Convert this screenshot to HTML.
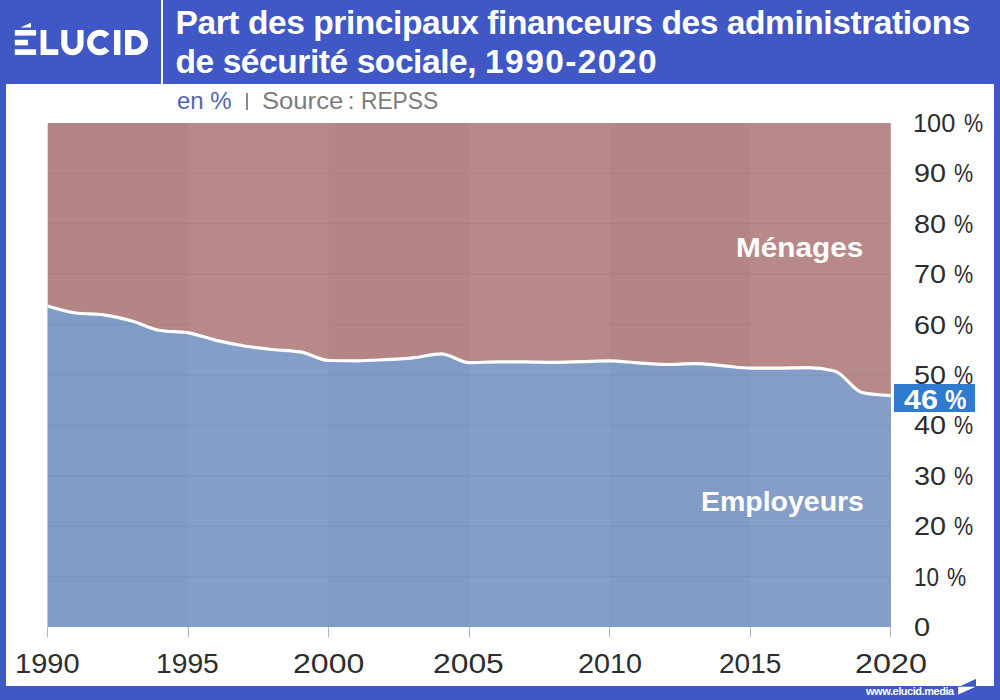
<!DOCTYPE html>
<html><head><meta charset="utf-8"><style>
*{margin:0;padding:0;box-sizing:border-box}
html,body{width:1000px;height:700px;overflow:hidden;background:#4058c5;font-family:"Liberation Sans",sans-serif}
#white{position:absolute;left:6px;top:84px;width:988px;height:602px;background:#fff}
#sep{position:absolute;left:161px;top:0;width:2px;height:84px;background:#fff}
#title{position:absolute;left:175.5px;top:3px;color:#fff;font-weight:bold;font-size:33.5px;line-height:39.2px;letter-spacing:-0.42px;white-space:nowrap}
#sub{position:absolute;left:0;top:88px;width:600px;height:26px;font-size:24px;line-height:26px;color:#7b7b7b;white-space:nowrap}
#sub span{position:absolute;top:0;transform-origin:0 0}
#sub .b{color:#5263b3}
#sub .bar{left:246.2px;top:4.6px;width:1.6px;height:17px;background:#8a8a8a}
svg{position:absolute;left:0;top:0}
.yl{position:absolute;left:0;width:1000px;height:30px;font-size:25px;line-height:30px;color:#2d2d2d;white-space:nowrap}
.yl .n{position:absolute;top:0;transform-origin:0 0}
.xl{position:absolute;top:647px;font-size:28.5px;line-height:32px;color:#2d2d2d;white-space:nowrap;transform-origin:0 0}
.lab{position:absolute;color:#fff;font-weight:bold;font-size:27.7px;line-height:30px;white-space:nowrap;transform-origin:0 0}
#v46{position:absolute;left:894px;top:384px;width:81px;height:28px;background:#2f7bd0;color:#fff;font-weight:bold;font-size:27px;line-height:28px}
#v46 span{position:absolute;top:1.5px;transform-origin:0 0}
#url{position:absolute;left:866px;top:684.5px;color:#fff;font-weight:bold;font-size:11px;line-height:12px;letter-spacing:-0.45px;white-space:nowrap}
</style></head><body>
<div id="white"></div>
<div id="sep"></div>
<svg width="1000" height="700" viewBox="0 0 1000 700">
<g fill="#fff">
<rect x="14.8" y="30" width="21.3" height="5.6"/>
<rect x="14.8" y="39.8" width="13.2" height="5.5"/>
<rect x="14.8" y="49.3" width="21.3" height="5.6"/>
<path d="M20.5,27.6 L30.2,23.1 Q31,22.8 31,23.6 L31,27.6 Z"/>
<path d="M40.6,30 h5.8 v19.3 h11.9 v5.6 h-17.7 Z"/>
<path d="M64.3,30 V44.1 A8.1,8.1 0 0 0 80.5,44.1 V30" fill="none" stroke="#fff" stroke-width="6.1"/>
<path d="M107.03,35.98 A9.7,9.7 0 1 0 107.03,48.92" fill="none" stroke="#fff" stroke-width="6.1"/>
<rect x="114" y="30" width="6.4" height="25"/>
<path d="M125,30 H135.5 A12.5,12.5 0 0 1 135.5,55 H125 Z M131.4,36 V49.3 H134.5 A6.65,6.65 0 0 0 134.5,36 Z" fill-rule="evenodd"/>
</g>
<rect x="47.7" y="123.0" width="843.10" height="504.0" fill="#b58585"/>
<path d="M47.70,306.00 C57.07,308.90 66.44,311.80 75.80,313.00 C85.17,314.20 94.54,313.60 103.91,314.80 C113.27,316.00 122.64,318.38 132.01,321.00 C141.38,323.62 150.75,328.97 160.11,330.50 C169.48,332.03 178.85,331.27 188.22,332.80 C197.58,334.33 206.95,338.20 216.32,340.40 C225.69,342.60 235.06,344.48 244.42,346.00 C253.79,347.52 263.16,348.52 272.53,349.50 C281.89,350.48 291.26,350.30 300.63,351.90 C310.00,353.50 319.37,360.30 328.73,360.50 C338.10,360.70 347.47,360.80 356.84,360.80 C366.20,360.80 375.57,360.18 384.94,359.70 C394.31,359.22 403.68,358.87 413.04,357.90 C422.41,356.93 431.78,353.90 441.15,353.90 C450.51,353.90 459.88,362.60 469.25,362.60 C478.62,362.60 487.99,361.90 497.35,361.90 C506.72,361.90 516.09,361.90 525.46,361.90 C534.82,361.90 544.19,362.40 553.56,362.40 C562.93,362.40 572.30,361.87 581.66,361.60 C591.03,361.33 600.40,360.80 609.77,360.80 C619.13,360.80 628.50,362.28 637.87,362.90 C647.24,363.52 656.61,364.50 665.97,364.50 C675.34,364.50 684.71,363.70 694.08,363.70 C703.44,363.70 712.81,364.85 722.18,365.60 C731.55,366.35 740.92,368.20 750.28,368.20 C759.65,368.20 769.02,368.17 778.39,368.10 C787.75,368.03 797.12,367.60 806.49,367.60 C815.86,367.60 825.23,368.73 834.59,371.00 C843.96,373.27 853.33,390.93 862.70,392.80 C872.06,394.67 881.43,395.13 890.80,395.60 L890.80,627.0 L47.70,627.0 Z" fill="#7f9bc6"/>
<rect x="188.22" y="123.0" width="140.52" height="504.0" fill="#fff" opacity="0.04"/><rect x="469.25" y="123.0" width="140.52" height="504.0" fill="#fff" opacity="0.04"/><rect x="750.28" y="123.0" width="140.52" height="504.0" fill="#fff" opacity="0.04"/>
<line x1="47.7" x2="890.8" y1="576.60" y2="576.60" stroke="#000" stroke-opacity="0.05" stroke-width="1"/><line x1="47.7" x2="890.8" y1="526.20" y2="526.20" stroke="#000" stroke-opacity="0.05" stroke-width="1"/><line x1="47.7" x2="890.8" y1="475.80" y2="475.80" stroke="#000" stroke-opacity="0.05" stroke-width="1"/><line x1="47.7" x2="890.8" y1="425.40" y2="425.40" stroke="#000" stroke-opacity="0.05" stroke-width="1"/><line x1="47.7" x2="890.8" y1="375.00" y2="375.00" stroke="#000" stroke-opacity="0.05" stroke-width="1"/><line x1="47.7" x2="890.8" y1="324.60" y2="324.60" stroke="#000" stroke-opacity="0.05" stroke-width="1"/><line x1="47.7" x2="890.8" y1="274.20" y2="274.20" stroke="#000" stroke-opacity="0.05" stroke-width="1"/><line x1="47.7" x2="890.8" y1="223.80" y2="223.80" stroke="#000" stroke-opacity="0.05" stroke-width="1"/><line x1="47.7" x2="890.8" y1="173.40" y2="173.40" stroke="#000" stroke-opacity="0.05" stroke-width="1"/>
<path d="M47.70,306.00 C57.07,308.90 66.44,311.80 75.80,313.00 C85.17,314.20 94.54,313.60 103.91,314.80 C113.27,316.00 122.64,318.38 132.01,321.00 C141.38,323.62 150.75,328.97 160.11,330.50 C169.48,332.03 178.85,331.27 188.22,332.80 C197.58,334.33 206.95,338.20 216.32,340.40 C225.69,342.60 235.06,344.48 244.42,346.00 C253.79,347.52 263.16,348.52 272.53,349.50 C281.89,350.48 291.26,350.30 300.63,351.90 C310.00,353.50 319.37,360.30 328.73,360.50 C338.10,360.70 347.47,360.80 356.84,360.80 C366.20,360.80 375.57,360.18 384.94,359.70 C394.31,359.22 403.68,358.87 413.04,357.90 C422.41,356.93 431.78,353.90 441.15,353.90 C450.51,353.90 459.88,362.60 469.25,362.60 C478.62,362.60 487.99,361.90 497.35,361.90 C506.72,361.90 516.09,361.90 525.46,361.90 C534.82,361.90 544.19,362.40 553.56,362.40 C562.93,362.40 572.30,361.87 581.66,361.60 C591.03,361.33 600.40,360.80 609.77,360.80 C619.13,360.80 628.50,362.28 637.87,362.90 C647.24,363.52 656.61,364.50 665.97,364.50 C675.34,364.50 684.71,363.70 694.08,363.70 C703.44,363.70 712.81,364.85 722.18,365.60 C731.55,366.35 740.92,368.20 750.28,368.20 C759.65,368.20 769.02,368.17 778.39,368.10 C787.75,368.03 797.12,367.60 806.49,367.60 C815.86,367.60 825.23,368.73 834.59,371.00 C843.96,373.27 853.33,390.93 862.70,392.80 C872.06,394.67 881.43,395.13 890.80,395.60" fill="none" stroke="#fff" stroke-width="3.2" stroke-linejoin="round" stroke-linecap="butt"/>
<line x1="47.5" x2="47.5" y1="627.0" y2="637.0" stroke="#b4b4b4" stroke-width="1"/><line x1="188.5" x2="188.5" y1="627.0" y2="637.0" stroke="#b4b4b4" stroke-width="1"/><line x1="328.5" x2="328.5" y1="627.0" y2="637.0" stroke="#b4b4b4" stroke-width="1"/><line x1="469.5" x2="469.5" y1="627.0" y2="637.0" stroke="#b4b4b4" stroke-width="1"/><line x1="609.5" x2="609.5" y1="627.0" y2="637.0" stroke="#b4b4b4" stroke-width="1"/><line x1="750.5" x2="750.5" y1="627.0" y2="637.0" stroke="#b4b4b4" stroke-width="1"/><line x1="890.5" x2="890.5" y1="627.0" y2="637.0" stroke="#b4b4b4" stroke-width="1"/>
<path d="M959.5,686.6 L975.2,679.2 Q976,678.8 976,679.6 L976,687 L959.5,687 Z" fill="#4058c5"/>
<path d="M958.2,686.8 L975.5,686.8 L958.2,694.6 Z" fill="#fff"/>
</svg>
<div id="title">Part des principaux financeurs des administrations<br>de sécurité sociale, <span style="letter-spacing:1.4px">1990-202</span>0</div>
<div id="sub"><span class="b" style="left:177px">en %</span><span class="bar"></span><span style="left:262.43px;transform:scaleX(1.068)">Source</span><span style="left:347.8px">:</span><span style="left:360.5px;transform:scaleX(0.948)">REPSS</span></div>
<div class="yl" style="top:612.0px"><span class="n" style="left:914.24px;transform:scaleX(1.16)">0</span></div><div class="yl" style="top:561.6px"><span class="n" style="left:913.69px;transform:scaleX(0.9)">10</span><span class="n" style="left:947.23px;transform:scaleX(0.86)">%</span></div><div class="yl" style="top:511.2px"><span class="n" style="left:914.21px;transform:scaleX(1.15)">20</span><span class="n" style="left:954.23px;transform:scaleX(0.86)">%</span></div><div class="yl" style="top:460.8px"><span class="n" style="left:914.21px;transform:scaleX(1.15)">30</span><span class="n" style="left:954.23px;transform:scaleX(0.86)">%</span></div><div class="yl" style="top:410.4px"><span class="n" style="left:914.21px;transform:scaleX(1.15)">40</span><span class="n" style="left:954.23px;transform:scaleX(0.86)">%</span></div><div class="yl" style="top:360.0px"><span class="n" style="left:914.21px;transform:scaleX(1.15)">50</span><span class="n" style="left:954.23px;transform:scaleX(0.86)">%</span></div><div class="yl" style="top:309.6px"><span class="n" style="left:914.21px;transform:scaleX(1.15)">60</span><span class="n" style="left:954.23px;transform:scaleX(0.86)">%</span></div><div class="yl" style="top:259.2px"><span class="n" style="left:914.21px;transform:scaleX(1.15)">70</span><span class="n" style="left:954.23px;transform:scaleX(0.86)">%</span></div><div class="yl" style="top:208.8px"><span class="n" style="left:914.21px;transform:scaleX(1.15)">80</span><span class="n" style="left:954.23px;transform:scaleX(0.86)">%</span></div><div class="yl" style="top:158.4px"><span class="n" style="left:914.21px;transform:scaleX(1.15)">90</span><span class="n" style="left:954.23px;transform:scaleX(0.86)">%</span></div><div class="yl" style="top:108.0px"><span class="n" style="left:913.07px;transform:scaleX(1.015)">100</span><span class="n" style="left:963.53px;transform:scaleX(0.86)">%</span></div>
<div class="xl" style="left:14.56px;transform:scaleX(1.018)">1990</div><div class="xl" style="left:155.82px;transform:scaleX(0.99)">1995</div><div class="xl" style="left:292.93px;transform:scaleX(1.125)">2000</div><div class="xl" style="left:433.44px;transform:scaleX(1.117)">2005</div><div class="xl" style="left:578.09px;transform:scaleX(1.01)">2010</div><div class="xl" style="left:719.12px;transform:scaleX(0.985)">2015</div><div class="xl" style="left:855.41px;transform:scaleX(1.133)">2020</div>
<div class="lab" style="left:736.36px;top:232.8px;transform:scaleX(1.074)">Ménages</div>
<div class="lab" style="left:701.05px;top:486.8px;transform:scaleX(1.028)">Employeurs</div>
<div id="v46"><span style="left:9.55px;transform:scaleX(1.13)">46</span><span style="left:50.85px;transform:scaleX(0.89)">%</span></div>
<div id="url">www.elucid.media</div>
</body></html>
